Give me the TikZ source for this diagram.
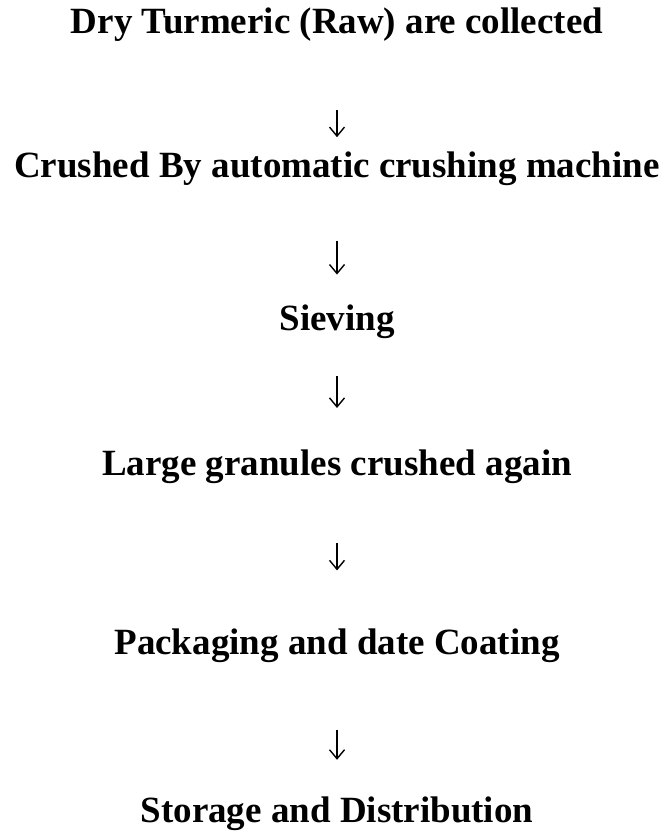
\documentclass[tikz,border=0pt]{standalone}
\usepackage{fontspec}
\setmainfont{Liberation Serif}
\usetikzlibrary{positioning,arrows.meta}
\newcommand{\StageFont}{\fontsize{37}{44}\selectfont\bfseries}
\tikzset{
  stage/.style={inner sep=0pt, text height=26pt, text depth=8pt, font=\StageFont},
  flow/.style={-{Straight Barb[length=9pt,width=15pt]}, line width=1.4pt, black},
}
\begin{document}
\begin{tikzpicture}
  \useasboundingbox (0,0) rectangle (670pt,834pt);
  \node[stage, anchor=base] (dry) at (337pt,800pt) {Dry Turmeric (Raw) are collected};
  \node[stage, below=109pt of dry] (crush) {Crushed By automatic crushing machine};
  \node[stage, below=119pt of crush] (sieve) {Sieving};
  \node[stage, below=110pt of sieve] (regrind) {Large granules crushed again};
  \node[stage, below=145pt of regrind] (pack) {Packaging and date Coating};
  \node[stage, below=134pt of pack] (store) {Storage and Distribution};
  % arrows sit loose between the stages
  \draw[flow, shorten <=68pt, shorten >=14pt] (dry) -- (crush);
  \draw[flow, shorten <=55pt, shorten >=30pt] (crush) -- (sieve);
  \draw[flow, shorten <=37pt, shorten >=41pt] (sieve) -- (regrind);
  \draw[flow, shorten <=60pt, shorten >=58pt] (regrind) -- (pack);
  \draw[flow, shorten <=67pt, shorten >=37pt] (pack) -- (store);
\end{tikzpicture}
\end{document}
